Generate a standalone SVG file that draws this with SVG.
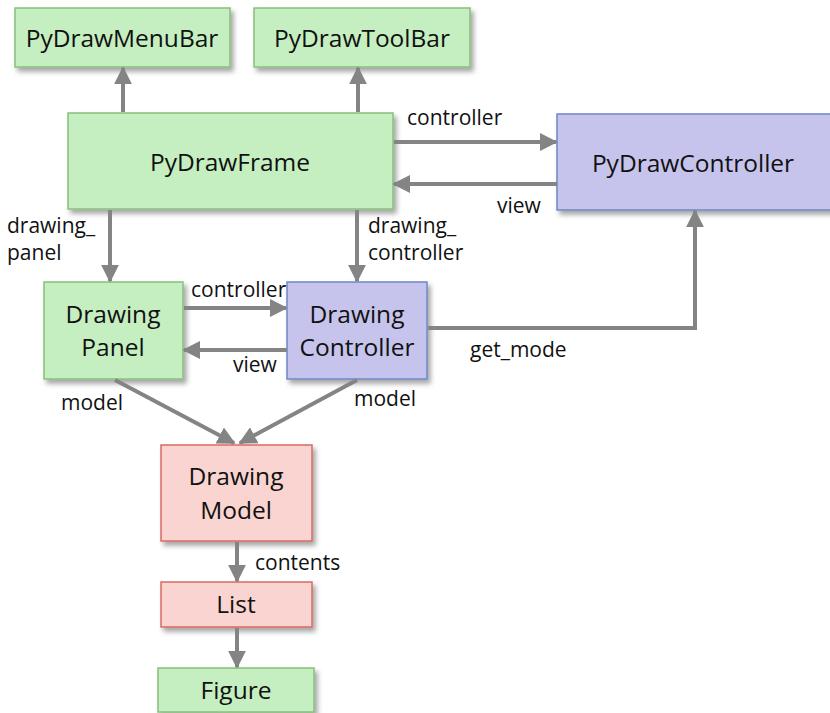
<svg xmlns="http://www.w3.org/2000/svg" width="830" height="713" viewBox="0 0 830 713">
<defs>
<filter id="sh" x="-10%" y="-10%" width="130%" height="140%"><feDropShadow dx="3" dy="4" stdDeviation="2.5" flood-color="#000" flood-opacity="0.35"/></filter>
<marker id="ah" viewBox="0 0 10 10" refX="9" refY="5" markerWidth="4.5" markerHeight="4.5" orient="auto" markerUnits="strokeWidth"><path d="M0,0 L10,5 L0,10 z" fill="#848484"/></marker>
</defs>
<style>
.g{fill:#c5efc0;stroke:#86c07a;stroke-width:1.5}
.p{fill:#c6c4ec;stroke:#6f86c6;stroke-width:1.5}
.r{fill:#f9d4d0;stroke:#d96a63;stroke-width:1.5}
.t{font-family:"Open Sans","Liberation Sans",sans-serif;font-size:24.5px;fill:#111;text-anchor:middle}
.l{font-family:"Open Sans","Liberation Sans",sans-serif;font-size:21px;fill:#111}
.c{stroke:#848484;stroke-width:4;fill:none;marker-end:url(#ah)}
</style>
<rect width="830" height="713" fill="#fff"/>
<g id="PyDrawMenuBar"><rect class="g" x="15" y="8" width="215" height="59" filter="url(#sh)"/><text class="t" x="122" y="47">PyDrawMenuBar</text></g>
<g id="PyDrawToolBar"><rect class="g" x="254" y="8" width="216" height="59" filter="url(#sh)"/><text class="t" x="362" y="47">PyDrawToolBar</text></g>
<g id="PyDrawFrame"><rect class="g" x="68" y="113" width="325" height="96" filter="url(#sh)"/><text class="t" x="230" y="171">PyDrawFrame</text></g>
<g id="PyDrawController"><rect class="p" x="557" y="114" width="276" height="96" filter="url(#sh)"/><text class="t" x="693" y="172">PyDrawController</text></g>
<g id="DrawingPanel"><rect class="g" x="44" y="282" width="139" height="97" filter="url(#sh)"/><text class="t" x="113" y="323">Drawing</text><text class="t" x="113" y="356">Panel</text></g>
<g id="DrawingController"><rect class="p" x="287" y="282" width="140" height="97" filter="url(#sh)"/><text class="t" x="357" y="323">Drawing</text><text class="t" x="357" y="356">Controller</text></g>
<g id="DrawingModel"><rect class="r" x="161" y="445" width="151" height="96" filter="url(#sh)"/><text class="t" x="236" y="485">Drawing</text><text class="t" x="236" y="519">Model</text></g>
<g id="List"><rect class="r" x="161" y="582" width="151" height="45" filter="url(#sh)"/><text class="t" x="236" y="613">List</text></g>
<g id="Figure"><rect class="g" x="158" y="668" width="156" height="44" filter="url(#sh)"/><text class="t" x="236" y="699">Figure</text></g>
<g id="connectors">
<line class="c" x1="123" y1="112" x2="123" y2="68"/>
<line class="c" x1="358" y1="112" x2="358" y2="68"/>
<line class="c" x1="394" y1="142" x2="556" y2="142"/>
<line class="c" x1="557" y1="184" x2="394" y2="184"/>
<line class="c" x1="110" y1="210" x2="110" y2="281"/>
<line class="c" x1="357" y1="210" x2="357" y2="281"/>
<line class="c" x1="184" y1="308" x2="286" y2="308"/>
<line class="c" x1="287" y1="350" x2="184" y2="350"/>
<polyline class="c" points="428,328 695,328 695,211"/>
<line class="c" x1="115" y1="380" x2="234" y2="443"/>
<line class="c" x1="357" y1="380" x2="240" y2="443"/>
<line class="c" x1="237" y1="542" x2="237" y2="581"/>
<line class="c" x1="237" y1="628" x2="237" y2="667"/>
</g>
<g id="labels">
<text class="l" x="407" y="125">controller</text>
<text class="l" x="497" y="213">view</text>
<text class="l" x="7" y="233">drawing_</text>
<text class="l" x="7" y="260">panel</text>
<text class="l" x="368" y="233">drawing_</text>
<text class="l" x="368" y="260">controller</text>
<text class="l" x="191" y="297">controller</text>
<text class="l" x="233" y="372">view</text>
<text class="l" x="470" y="357">get_mode</text>
<text class="l" x="61" y="410">model</text>
<text class="l" x="354" y="406">model</text>
<text class="l" x="255" y="570">contents</text>
</g>
</svg>
